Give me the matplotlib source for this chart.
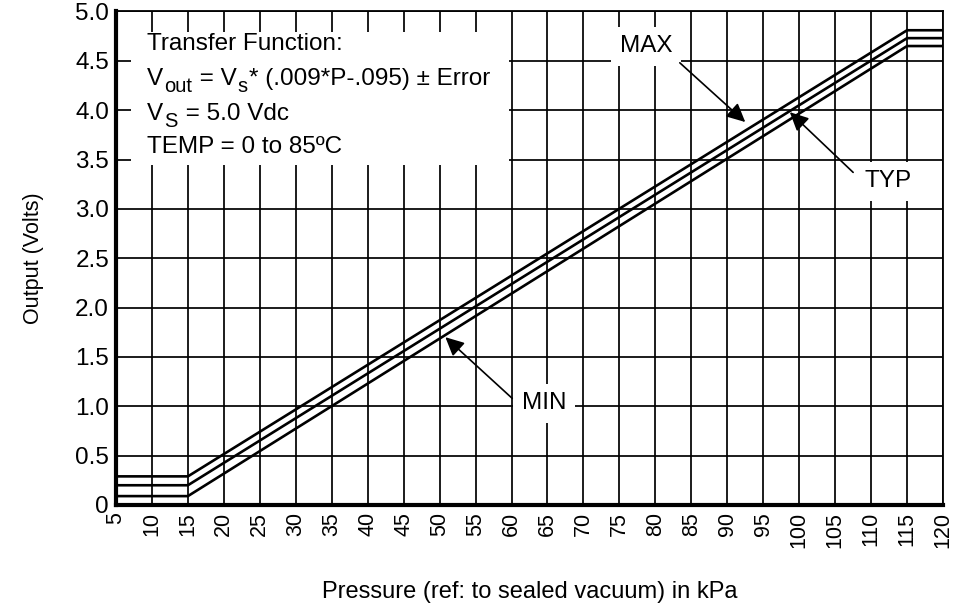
import matplotlib
matplotlib.use("Agg")
import matplotlib.pyplot as plt
from matplotlib.patches import Rectangle
from matplotlib.transforms import offset_copy

plt.rcParams['font.family'] = ['Liberation Sans', 'DejaVu Sans']

# ---- data ----
pressure = [5, 15, 115, 120]
v_max = [0.29, 0.29, 4.81, 4.81]
v_typ = [0.20, 0.20, 4.73, 4.73]
v_min = [0.09, 0.09, 4.65, 4.65]

x_ticks = list(range(5, 121, 5))
y_ticks = [0, 0.5, 1.0, 1.5, 2.0, 2.5, 3.0, 3.5, 4.0, 4.5, 5.0]
y_tick_labels = ['0', '0.5', '1.0', '1.5', '2.0', '2.5', '3.0', '3.5', '4.0', '4.5', '5.0']

labels = ['MAX', 'TYP', 'MIN']
label_pos = [(78.7, 4.65), (112.4, 3.28), (64.5, 1.03)]
arrow_tail = [(83.4, 4.48), (107.5, 3.37), (60.1, 1.08)]
arrow_head = [(92.5, 3.88), (98.7, 3.98), (50.8, 1.70)]

# each line: list of (text, is_subscript)
info_lines = [
    [('Transfer Function:', False)],
    [('V', False), ('out', True), (' = V', False), ('s', True),
     ('* (.009*P-.095) ± Error', False)],
    [('V', False), ('S', True), (' = 5.0 Vdc', False)],
    [('TEMP = 0 to 85ºC', False)],
]

# ---- figure ----
fig = plt.figure(figsize=(9.61, 6.05), dpi=100)
ax = fig.add_axes([0.1207, 0.1653, 0.8606, 0.8157])
ax.set_xlim(5, 120)
ax.set_ylim(0, 5.0)
ax.set_axisbelow(True)
ax.grid(True, color='black', linewidth=1.25)

ax.set_xticks(x_ticks)
ax.set_xticklabels([str(t) for t in x_ticks], rotation=90, fontsize=15.5)
ax.set_yticks(y_ticks)
ax.set_yticklabels(y_tick_labels, fontsize=17.5)
ax.tick_params(axis='both', length=0)
ax.tick_params(axis='x', pad=5)
ax.tick_params(axis='y', pad=5)

for side in ['left', 'bottom']:
    ax.spines[side].set_linewidth(3.0)
for side in ['top', 'right']:
    ax.spines[side].set_linewidth(1.3)

for vals in (v_max, v_typ, v_min):
    ax.plot(pressure, vals, color='black', linewidth=1.9, zorder=2,
            solid_joinstyle='miter')

# info box
ax.add_patch(Rectangle((0.018, 0.689), 0.457, 0.269, transform=ax.transAxes,
                       facecolor='white', edgecolor='none', zorder=1))
renderer = fig.canvas.get_renderer()
main_size = 17.5
sub_size = 14.5
sub_drop = 5.0
baselines = [0.922, 0.851, 0.780, 0.713]
for pieces, yb in zip(info_lines, baselines):
    cur = 0.0  # points
    for txt, is_sub in pieces:
        size = sub_size if is_sub else main_size
        dy = -sub_drop if is_sub else 0.0
        tr = offset_copy(ax.transAxes, fig=fig, x=cur, y=dy, units='points')
        t = ax.text(0.0375, yb, txt, transform=tr, fontsize=size,
                    va='baseline', ha='left', zorder=3)
        w = t.get_window_extent(renderer).width * 72.0 / fig.dpi
        cur += w + (1.0 if is_sub else 0.5)

# labels & arrows
for lab, pos, tail, head in zip(labels, label_pos, arrow_tail, arrow_head):
    ax.text(pos[0], pos[1], lab, fontsize=17.5, ha='center', va='center',
            zorder=4,
            bbox=dict(boxstyle='square,pad=0.35', facecolor='white',
                      edgecolor='none'))
    ax.annotate('', xy=head, xytext=tail,
                arrowprops=dict(arrowstyle='-|>,head_length=0.45,head_width=0.22',
                                color='black', lw=1.2, shrinkA=0, shrinkB=0,
                                mutation_scale=25),
                zorder=5)

ax.set_xlabel('Pressure (ref: to sealed vacuum) in kPa', fontsize=17)
ax.xaxis.set_label_coords(0.5, -0.176)
ax.xaxis.label.set_va('center')
ax.set_ylabel('Output (Volts)', fontsize=15.5)
ax.yaxis.set_label_coords(-0.1, 0.5)
ax.yaxis.label.set_va('center')

fig.savefig('out.png', dpi=100)
